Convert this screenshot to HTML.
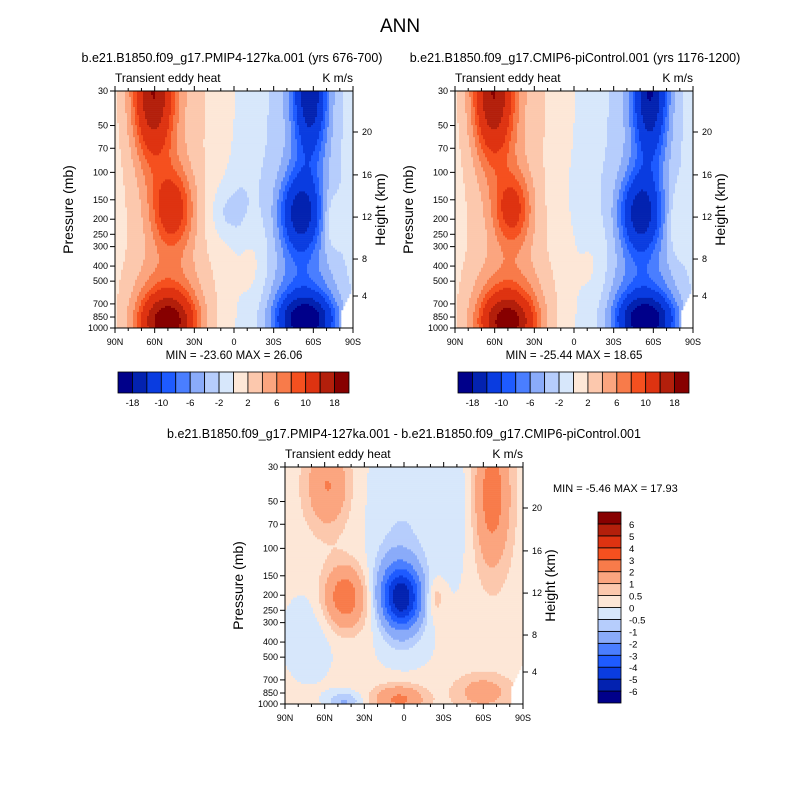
<!DOCTYPE html>
<html><head><meta charset="utf-8">
<style>
html,body{margin:0;padding:0;background:#fff;}
svg{display:block;font-family:"Liberation Sans",sans-serif;}
</style></head>
<body>
<svg id="root" width="800" height="800" viewBox="0 0 800 800">
<rect width="800" height="800" fill="#fff"/>
<text x="400" y="32" font-size="19" text-anchor="middle">ANN</text>
<g id="g1"></g>
<g id="g2"></g>
<g id="g3"></g>
</svg>
<script>
// ---- data ----
const latLabels = ["90N","60N","30N","0","30S","60S","90S"];
const pressureTicks = [30,50,70,100,150,200,250,300,400,500,700,850,1000];
const heightTicks = [20,16,12,8,4];
const heightFrac = [0.173,0.354,0.532,0.709,0.865];
const levelsAbs = [-18,-14,-10,-8,-6,-4,-2,0,2,4,6,8,10,14,18];
const absLabels = ["-18","-10","-6","-2","2","6","10","18"];
const levelsDiff = [-6,-5,-4,-3,-2,-1,-0.5,0,0.5,1,2,3,4,5,6];
const diffLabels = ["6","5","4","3","2","1","0.5","0","-0.5","-1","-2","-3","-4","-5","-6"];
const palette = ["#00008a","#0322b0","#0a3ce0","#1e5bff","#4a7eff","#8aabf9","#b6cdfc","#d7e7fb",
                 "#fde7d7","#fcc8ad","#fba57f","#f87b4a","#f5501f","#de3311","#b31f0b","#870000"];
// blobs: [lat-frac, p-frac, sigmaU, sigmaV, amplitude]
const blobsP1 = [[0.22,0.5,0.13,1.5,3],[0.16,0.0,0.06,0.2,15],[0.24,0.5,0.06,0.12,9],
 [0.22,0.98,0.08,0.08,17],[0.22,0.85,0.1,0.1,3.5],
 [0.79,0.5,0.12,1.5,-3],[0.82,0.0,0.05,0.2,-14],[0.78,0.52,0.06,0.12,-13],
 [0.8,0.97,0.08,0.07,-18],[0.79,0.85,0.1,0.1,-4],
 [0.47,0.52,0.05,0.08,-2.5],[0.5,0.42,0.08,0.15,-1],[0.58,0.75,0.05,0.12,1.8],[0.91,0.55,0.025,0.08,3]];
const blobsP2 = [[0.22,0.5,0.13,1.5,3],[0.16,0.0,0.06,0.2,15],[0.24,0.5,0.055,0.11,8],
 [0.22,0.98,0.08,0.08,16],[0.22,0.85,0.1,0.1,3.5],
 [0.79,0.5,0.12,1.5,-3],[0.82,0.0,0.05,0.2,-15],[0.78,0.52,0.06,0.12,-13],
 [0.8,0.97,0.08,0.07,-18],[0.79,0.85,0.1,0.1,-4],
 [0.5,0.42,0.08,0.15,-0.8],[0.58,0.75,0.05,0.12,1.5],[0.93,0.55,0.025,0.1,2.5]];
const blobsDiff = [[0.18,0.08,0.06,0.12,1.8],[0.87,0.12,0.05,0.2,2.4],[0.25,0.55,0.06,0.09,2.6],
 [0.49,0.56,0.06,0.09,-5.5],[0.47,0.45,0.07,0.1,-1],[0.48,0.98,0.07,0.04,2],[0.83,0.95,0.08,0.05,1.2],
 [0.1,0.72,0.09,0.15,-0.6],[0.5,0.15,0.12,0.25,-0.7],[0.7,0.15,0.06,0.3,-0.5],[0.5,0.78,0.1,0.08,-0.4],
 [0.63,0.55,0.03,0.06,0.9],[0.25,0.99,0.05,0.03,-1.3]];
const baseP1 = 0.6, baseDiff = 0.25;

const NS="http://www.w3.org/2000/svg";
function mk(tag,attrs,parent){const e=document.createElementNS(NS,tag);for(const k in attrs)e.setAttribute(k,attrs[k]);parent.appendChild(e);return e;}
function field(blobs,u,v,base,split){let f=split?base*Math.tanh((0.5-u)*40):base;
 for(const b of blobs){const a=(u-b[0])/b[2],c=(v-b[1])/b[3];f+=b[4]*Math.exp(-0.5*(a*a+c*c));}return f;}
function lvl(levels,f){let i=0;while(i<levels.length&&f>=levels[i])i++;return i;}

function panel(g,x0,y0,blobs,levels,split,base,title,tx){
 const W=238,H=237,L=Math.log(1000/30);
 const yP=p=>y0+H*Math.log(p/30)/L, xU=u=>x0+W*u;
 const NC=119,NR=118;
 for(let r=0;r<NR;r++){
  const v=(r+0.5)/NR;let start=0,cur=-1;
  for(let c=0;c<=NC;c++){
   let k=-2;
   if(c<NC){const u=(c+0.5)/NC;k=lvl(levels,field(blobs,u,v,base,split));
     if(u>0.95&&v>0.93-(u-0.95)*2) k=-1;}
   if(c===0){cur=k;start=0;continue;}
   if(k!==cur){
     if(cur>=0){const rc=mk('rect',{x:xU(start/NC),y:y0+H*r/NR,width:W*(c-start)/NC+0.3,height:H/NR+0.3,fill:palette[cur]},g);
       
       }
     cur=k;start=c;}
  }
 }
 const ax=mk('g',{stroke:'#000','stroke-width':1,fill:'none'},g);
 mk('rect',{x:x0,y:y0,width:W,height:H},ax);
 pressureTicks.forEach(p=>{const y=yP(p);mk('line',{x1:x0-5,x2:x0,y1:y,y2:y},ax);
  const t=mk('text',{x:x0-7,y:y+3,'font-size':9,'text-anchor':'end',fill:'#000',stroke:'none'},g);t.textContent=p;
  });
 heightTicks.forEach((h,i)=>{const y=y0+H*heightFrac[i];mk('line',{x1:x0+W,x2:x0+W+5,y1:y,y2:y},ax);
  const t=mk('text',{x:x0+W+9,y:y+3,'font-size':9,fill:'#000',stroke:'none'},g);t.textContent=h;
  });
 for(let d=0;d<=18;d++){const x=xU(d/18);const maj=d%3===0;
  mk('line',{x1:x,x2:x,y1:y0+H,y2:y0+H+(maj?5:3)},ax);mk('line',{x1:x,x2:x,y1:y0,y2:y0-(maj?5:3)},ax);}
 latLabels.forEach((s,i)=>{const t=mk('text',{x:xU(i/6),y:y0+H+17,'font-size':9,'text-anchor':'middle'},g);t.textContent=s;
  });
 let t=mk('text',{x:x0-42,y:y0+H/2,'font-size':14,'text-anchor':'middle',transform:`rotate(-90 ${x0-42} ${y0+H/2})`},g);t.textContent='Pressure (mb)';
 
 t=mk('text',{x:x0+W+32,y:y0+H/2,'font-size':14,'text-anchor':'middle',transform:`rotate(-90 ${x0+W+32} ${y0+H/2})`},g);t.textContent='Height (km)';
 
 t=mk('text',{x:x0,y:y0-9,'font-size':12},g);t.textContent='Transient eddy heat';
 
 t=mk('text',{x:x0+W,y:y0-9,'font-size':12,'text-anchor':'end'},g);t.textContent='K m/s';
 
 t=mk('text',{x:tx,y:y0-29,'font-size':12.5,'text-anchor':'middle'},g);t.textContent=title;
 
}
function hbar(g,x0,y0,mn,mx){
 const w=231/16;
 palette.forEach((c,i)=>{const r=mk('rect',{x:x0+i*w,y:y0,width:w,height:21,fill:c,stroke:'#000','stroke-width':0.8},g);
  });
 absLabels.forEach((s,i)=>{const t=mk('text',{x:x0+(2*i+1)*w,y:y0+34,'font-size':9.5,'text-anchor':'middle'},g);t.textContent=s;
  });
 const t=mk('text',{x:x0+116,y:y0-13,'font-size':11.5,'text-anchor':'middle'},g);t.textContent=`MIN = ${mn}  MAX =  ${mx}`;
 
}
const g1=document.getElementById('g1'),g2=document.getElementById('g2'),g3=document.getElementById('g3');
panel(g1,115,91,blobsP1,levelsAbs,true,baseP1,'b.e21.B1850.f09_g17.PMIP4-127ka.001 (yrs 676-700)',232);
hbar(g1,118,372,'-23.60','26.06');
panel(g2,455,91,blobsP2,levelsAbs,true,baseP1,'b.e21.B1850.f09_g17.CMIP6-piControl.001 (yrs 1176-1200)',575);
hbar(g2,458,372,'-25.44','18.65');
panel(g3,285,467,blobsDiff,levelsDiff,false,baseDiff,'b.e21.B1850.f09_g17.PMIP4-127ka.001 - b.e21.B1850.f09_g17.CMIP6-piControl.001',404);
// vertical colorbar
{const h=191/16;
 palette.forEach((c,i)=>{const r=mk('rect',{x:598,y:512+(15-i)*h,width:23,height:h,fill:c,stroke:'#000','stroke-width':0.8},g3);
  });
 diffLabels.forEach((s,i)=>{const t=mk('text',{x:629,y:512+(i+1)*h+4,'font-size':9.5},g3);t.textContent=s;
  });
 const t=mk('text',{x:553,y:492,'font-size':11},g3);t.textContent='MIN =  -5.46  MAX =  17.93';
 }
</script>
</body></html>
